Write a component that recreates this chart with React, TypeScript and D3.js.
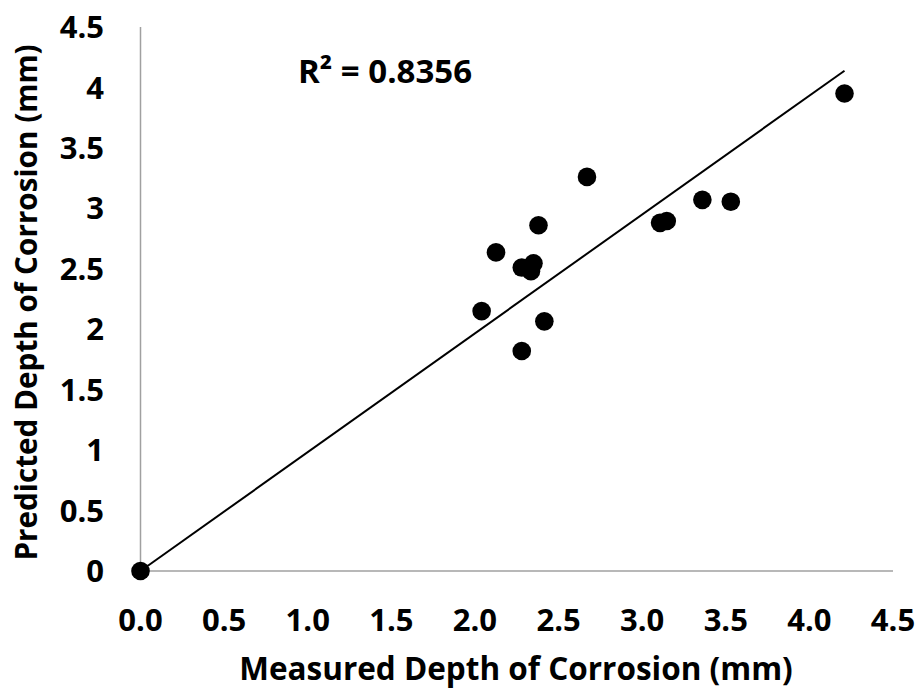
import React from "react";
import * as d3 from "d3";

const measured = [0, 2.04, 2.126, 2.28, 2.28, 2.335, 2.35, 2.38, 2.415, 2.67, 3.107, 3.147, 3.36, 3.53, 4.21];
const predicted = [0, 2.15, 2.636, 2.51, 1.82, 2.48, 2.545, 2.86, 2.065, 3.26, 2.88, 2.895, 3.07, 3.055, 3.95];
const xTicks = [0, 0.5, 1, 1.5, 2, 2.5, 3, 3.5, 4, 4.5];
const yTicks = [0, 0.5, 1, 1.5, 2, 2.5, 3, 3.5, 4, 4.5];
const trendSlope = 0.983;
const r2Label = "0.8356";

const W = 919;
const H = 689;
const FONT = "'Open Sans', 'DejaVu Sans', sans-serif";

export default function App() {
  const x = d3.scaleLinear().domain([0, 4.5]).range([140.5, 893]);
  const y = d3.scaleLinear().domain([0, 4.5]).range([571, 27]);
  const xMax = d3.max(measured) as number;
  const line = d3.line<number>().x((d) => x(d)).y((d) => y(d * trendSlope));
  const pts = measured.map((m, i) => ({ m, p: predicted[i] }));

  return (
    <svg width={W} height={H} style={{ position: "absolute", left: 0, top: 0, background: "#fff" }}>
      <rect x={0} y={0} width={W} height={H} fill="#fff" />
      {/* axes */}
      <line x1={x(0)} x2={x(4.5)} y1={y(0)} y2={y(0)} stroke="#a0a0a0" strokeWidth={1.5} />
      <line x1={x(0)} x2={x(0)} y1={y(0)} y2={y(4.5)} stroke="#a0a0a0" strokeWidth={1.5} />
      {/* trendline */}
      <path d={line([0, xMax]) || ""} stroke="#000" strokeWidth={2} fill="none" />
      {/* points */}
      {pts.map((d, i) => (
        <circle key={i} cx={x(d.m)} cy={y(d.p)} r={9.3} fill="#000" />
      ))}
      {/* tick labels */}
      {yTicks.map((t) => (
        <text key={"y" + t} x={104} y={y(t)} dy="0.36em" textAnchor="end" fontFamily={FONT} fontWeight={700} fontSize={31} fill="#000">
          {t === 0 ? "0" : String(t)}
        </text>
      ))}
      {xTicks.map((t) => (
        <text key={"x" + t} x={x(t)} y={620} dy="0.36em" textAnchor="middle" fontFamily={FONT} fontWeight={700} fontSize={31} fill="#000">
          {t.toFixed(1)}
        </text>
      ))}
      {/* axis titles */}
      <text x={516} y={680} textAnchor="middle" fontFamily={FONT} fontWeight={700} fontSize={31.5} fill="#000">
        Measured Depth of Corrosion (mm)
      </text>
      <text transform={`translate(37,302.5) rotate(-90)`} textAnchor="middle" fontFamily={FONT} fontWeight={700} fontSize={29.7} fill="#000">
        Predicted Depth of Corrosion (mm)
      </text>
      {/* R2 */}
      <text x={298} y={83} fontFamily={FONT} fontWeight={700} fontSize={33} fill="#000">
        R² = {r2Label}
      </text>
    </svg>
  );
}
